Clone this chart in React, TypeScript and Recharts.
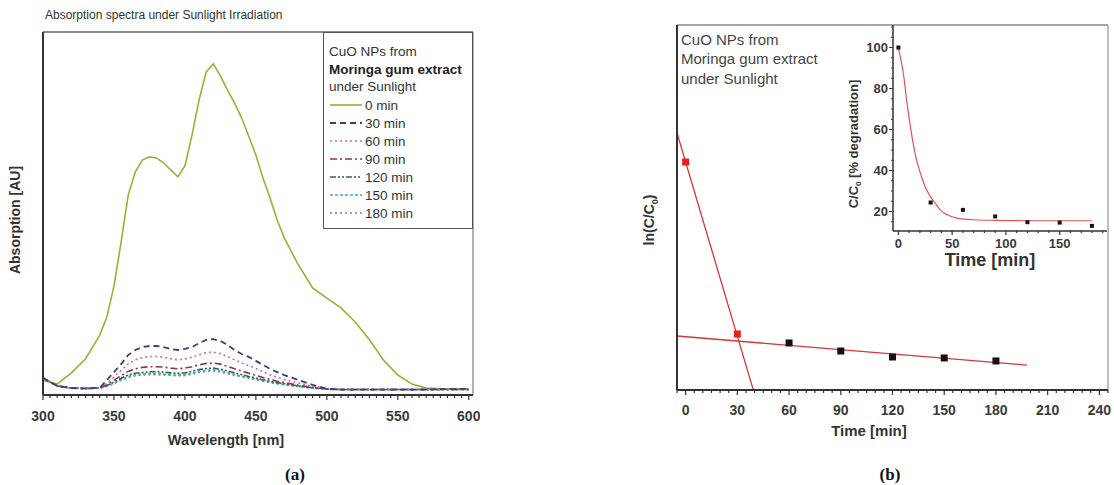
import React from 'react';
import { LineChart, Line, XAxis, YAxis, ReferenceLine, ComposedChart, Scatter } from 'recharts';

const FONT = '"Liberation Sans", Arial, Helvetica, sans-serif';

// ---------- Panel (a): absorption spectra ----------
const wavelengths = [300, 310, 320, 330, 340, 345, 350, 355, 360, 365, 370, 375, 380, 385, 390, 395, 400, 405, 410, 415, 420, 425, 430, 435, 440, 445, 450, 455, 460, 465, 470, 480, 490, 500, 510, 520, 530, 540, 550, 560, 570, 580, 590, 600];
const abs0min = [0.040, 0.030, 0.061, 0.100, 0.165, 0.215, 0.300, 0.420, 0.550, 0.614, 0.647, 0.656, 0.653, 0.639, 0.620, 0.601, 0.631, 0.716, 0.813, 0.890, 0.912, 0.879, 0.840, 0.804, 0.763, 0.713, 0.661, 0.598, 0.543, 0.482, 0.433, 0.358, 0.295, 0.267, 0.240, 0.201, 0.152, 0.096, 0.055, 0.030, 0.019, 0.017, 0.017, 0.017];
const abs30min = [0.047, 0.025, 0.019, 0.018, 0.020, 0.041, 0.063, 0.085, 0.110, 0.124, 0.132, 0.135, 0.135, 0.132, 0.127, 0.124, 0.127, 0.132, 0.143, 0.152, 0.154, 0.149, 0.138, 0.124, 0.113, 0.105, 0.094, 0.083, 0.072, 0.063, 0.055, 0.041, 0.028, 0.017, 0.015, 0.015, 0.015, 0.015, 0.015, 0.015, 0.015, 0.016, 0.017, 0.017];
const abs60min = [0.047, 0.025, 0.019, 0.018, 0.019, 0.032, 0.050, 0.068, 0.086, 0.097, 0.103, 0.106, 0.106, 0.104, 0.100, 0.097, 0.099, 0.104, 0.111, 0.117, 0.118, 0.114, 0.106, 0.097, 0.088, 0.081, 0.073, 0.064, 0.056, 0.049, 0.043, 0.033, 0.024, 0.018, 0.016, 0.015, 0.015, 0.015, 0.015, 0.015, 0.015, 0.016, 0.016, 0.016];
const abs90min = [0.047, 0.025, 0.019, 0.018, 0.019, 0.029, 0.041, 0.053, 0.065, 0.072, 0.076, 0.078, 0.078, 0.077, 0.074, 0.072, 0.074, 0.078, 0.083, 0.087, 0.088, 0.085, 0.079, 0.072, 0.066, 0.060, 0.054, 0.048, 0.043, 0.038, 0.034, 0.027, 0.021, 0.017, 0.015, 0.015, 0.015, 0.015, 0.015, 0.015, 0.015, 0.015, 0.015, 0.015];
const abs120min = [0.047, 0.025, 0.019, 0.018, 0.019, 0.026, 0.036, 0.046, 0.055, 0.060, 0.062, 0.064, 0.064, 0.063, 0.061, 0.060, 0.061, 0.065, 0.070, 0.073, 0.074, 0.071, 0.066, 0.061, 0.056, 0.051, 0.047, 0.042, 0.038, 0.034, 0.031, 0.025, 0.020, 0.017, 0.015, 0.015, 0.015, 0.015, 0.015, 0.015, 0.015, 0.015, 0.015, 0.015];
const abs150min = [0.047, 0.025, 0.019, 0.018, 0.019, 0.025, 0.033, 0.042, 0.051, 0.056, 0.058, 0.059, 0.059, 0.058, 0.056, 0.055, 0.056, 0.060, 0.065, 0.068, 0.069, 0.066, 0.062, 0.057, 0.052, 0.048, 0.044, 0.040, 0.036, 0.032, 0.029, 0.024, 0.019, 0.016, 0.015, 0.015, 0.015, 0.015, 0.015, 0.015, 0.015, 0.015, 0.015, 0.015];
const abs180min = [0.047, 0.025, 0.019, 0.018, 0.019, 0.024, 0.032, 0.040, 0.048, 0.053, 0.055, 0.056, 0.056, 0.055, 0.054, 0.053, 0.054, 0.057, 0.062, 0.065, 0.066, 0.063, 0.059, 0.054, 0.050, 0.046, 0.042, 0.038, 0.034, 0.031, 0.028, 0.023, 0.019, 0.016, 0.015, 0.015, 0.015, 0.015, 0.015, 0.015, 0.015, 0.015, 0.015, 0.015];
const wavelengthTicks = [300, 305, 310, 315, 320, 325, 330, 335, 340, 345, 350, 355, 360, 365, 370, 375, 380, 385, 390, 395, 400, 405, 410, 415, 420, 425, 430, 435, 440, 445, 450, 455, 460, 465, 470, 475, 480, 485, 490, 495, 500, 505, 510, 515, 520, 525, 530, 535, 540, 545, 550, 555, 560, 565, 570, 575, 580, 585, 590, 595, 600];

const spectraRows = wavelengths.map((w, i) => ({
  w,
  m0: abs0min[i],
  m30: abs30min[i],
  m60: abs60min[i],
  m90: abs90min[i],
  m120: abs120min[i],
  m150: abs150min[i],
  m180: abs180min[i],
}));

const seriesStyles = [
  { key: 'm0', label: '0 min', color: '#a3ab3a', dash: undefined as string | undefined, w: 1.6 },
  { key: 'm30', label: '30 min', color: '#3b3f78', dash: '6 4', w: 1.8 },
  { key: 'm60', label: '60 min', color: '#c46ac4', dash: '2 3', w: 1.6 },
  { key: 'm90', label: '90 min', color: '#8c3646', dash: '7 3 2 3', w: 1.6 },
  { key: 'm120', label: '120 min', color: '#2e6b3c', dash: '6 2 2 2 2 2', w: 1.6 },
  { key: 'm150', label: '150 min', color: '#4aa9c9', dash: '3 2', w: 1.6 },
  { key: 'm180', label: '180 min', color: '#8a78a8', dash: '2 3', w: 1.6 },
];
const drawOrder = ['m0', 'm180', 'm150', 'm120', 'm90', 'm60', 'm30'];

// ---------- Panel (b): kinetics ----------
const timePoints = [0, 30, 60, 90, 120, 150, 180];
const lnRatio = [0, -1.433, -1.508, -1.575, -1.625, -1.633, -1.658];
const steepFitT = [-5, 39.2];
const steepFitV = [0.242, -1.897];
const slowFitT = [-5, 198];
const slowFitV = [-1.45, -1.692];
const timeTicks = [-5, 0, 5, 10, 15, 20, 25, 30, 35, 40, 45, 50, 55, 60, 65, 70, 75, 80, 85, 90, 95, 100, 105, 110, 115, 120, 125, 130, 135, 140, 145, 150, 155, 160, 165, 170, 175, 180, 185, 190, 195, 200, 205, 210, 215, 220, 225, 230, 235, 240, 245];

const lnRows = timePoints.map((t, i) => ({ t, v: lnRatio[i] }));
const steepRows = steepFitT.map((t, i) => ({ t, v: steepFitV[i] }));
const slowRows = slowFitT.map((t, i) => ({ t, v: slowFitV[i] }));

// ---------- Inset: % remaining ----------
const remainingPct = [100, 24.4, 20.8, 17.6, 14.8, 14.6, 13.0];
const decayFitT = [0, 5, 8, 11, 14.3, 17, 20.5, 25, 29.8, 35, 39, 45, 54.5, 70, 90, 120, 150, 180];
const decayFitV = [100, 86, 73, 62, 51.7, 45, 38.7, 32, 27.3, 23.5, 20.8, 18.5, 16.8, 16, 15.7, 15.5, 15.5, 15.5];
const insetXTicks = [0, 10, 20, 30, 40, 50, 60, 70, 80, 90, 100, 110, 120, 130, 140, 150, 160, 170, 180, 190];
const insetYTicks = [15, 20, 25, 30, 35, 40, 45, 50, 55, 60, 65, 70, 75, 80, 85, 90, 95, 100, 105, 110];

const insetRows = timePoints.map((t, i) => ({ t, v: remainingPct[i] }));
const decayRows = decayFitT.map((t, i) => ({ t, v: decayFitV[i] }));

// ---------- helpers ----------
const makeBottomTick = (majorEvery: number, labelDy: number, fontSize: number, majorLen: number, minorLen: number) => (props: any) => {
  const { x, y, payload } = props;
  const v = Number(payload.value);
  const major = Math.abs(v % majorEvery) < 1e-9;
  return (
    <g>
      <line x1={x} x2={x} y1={y} y2={y + (major ? majorLen : minorLen)} stroke="#333" strokeWidth={1.2} />
      {major ? (
        <text x={x} y={y + labelDy} textAnchor="middle" dominantBaseline="central" fontFamily={FONT} fontWeight="bold" fontSize={fontSize} fill="#3a3a3a">
          {v}
        </text>
      ) : null}
    </g>
  );
};

const InsetLeftTick = (props: any) => {
  const { x, y, payload } = props;
  const v = Number(payload.value);
  const major = v % 20 === 0;
  return (
    <g>
      <line x1={x} x2={x - (major ? 4 : 2)} y1={y} y2={y} stroke="#333" strokeWidth={1} />
      {major ? (
        <text x={x - 5} y={y} textAnchor="end" dominantBaseline="central" fontFamily={FONT} fontWeight="bold" fontSize={13} fill="#3a3a3a">
          {v}
        </text>
      ) : null}
    </g>
  );
};

const SpectraTick = makeBottomTick(50, 21, 14, 5, 3);
const TimeTick = makeBottomTick(30, 20, 14, 5, 3);
const InsetTimeTick = makeBottomTick(50, 12, 13, 4, 2);

const Square = (color: string, size: number) => (p: any) => (
  <rect x={p.cx - size / 2} y={p.cy - size / 2} width={size} height={size} fill={color} />
);

const Txt = ({ x, y, children, style }: { x: number; y: number; children: any; style?: React.CSSProperties }) => (
  <div style={{ position: 'absolute', left: x, top: y, whiteSpace: 'nowrap', fontFamily: FONT, lineHeight: 1, ...style }}>{children}</div>
);

const VTxt = ({ cx, cy, children, style }: { cx: number; cy: number; children: any; style?: React.CSSProperties }) => (
  <div
    style={{
      position: 'absolute',
      left: cx,
      top: cy,
      transform: 'translate(-50%, -50%) rotate(-90deg)',
      whiteSpace: 'nowrap',
      fontFamily: FONT,
      lineHeight: 1,
      ...style,
    }}
  >
    {children}
  </div>
);

export default function App() {
  return (
    <div style={{ position: 'absolute', left: 0, top: 0, width: 1114, height: 485, background: '#fff', overflow: 'hidden' }}>
      {/* Panel (a) */}
      <div style={{ position: 'absolute', left: 0, top: 0 }}>
        <LineChart width={480} height={460} data={spectraRows} margin={{ top: 32, right: 7, left: 42, bottom: 35 }}>
          <XAxis
            dataKey="w"
            type="number"
            domain={[300, 603]}
            allowDataOverflow
            ticks={wavelengthTicks}
            interval={0}
            tick={SpectraTick}
            tickLine={false}
            tickSize={0}
            tickMargin={0}
            height={30}
            axisLine={{ stroke: '#333', strokeWidth: 2 }}
          />
          <YAxis type="number" domain={[0, 1]} allowDataOverflow width={1} tick={false} tickLine={false} axisLine={{ stroke: '#333', strokeWidth: 2 }} />
          <ReferenceLine y={1} stroke="#666" strokeWidth={1.5} />
          <ReferenceLine x={603} stroke="#999" strokeWidth={1.5} />
          {drawOrder.map((k) => {
            const s = seriesStyles.find((q) => q.key === k)!;
            return (
              <Line
                key={k}
                type="linear"
                dataKey={k}
                stroke={s.color}
                strokeWidth={s.w}
                strokeDasharray={s.dash}
                dot={false}
                isAnimationActive={false}
              />
            );
          })}
        </LineChart>
      </div>

      <Txt x={45} y={9} style={{ fontSize: 12, color: '#333' }}>Absorption spectra under Sunlight Irradiation</Txt>
      <VTxt cx={15} cy={220} style={{ fontSize: 14, fontWeight: 'bold', color: '#333' }}>Absorption [AU]</VTxt>
      <Txt x={226} y={440} style={{ fontSize: 14.5, fontWeight: 'bold', color: '#333', transform: 'translate(-50%, -50%)' }}>Wavelength [nm]</Txt>
      <Txt x={295} y={474} style={{ fontSize: 17, fontWeight: 'bold', color: '#111', fontFamily: '"Liberation Serif", "Times New Roman", serif', transform: 'translate(-50%, -50%)' }}>(a)</Txt>

      {/* legend box */}
      <div style={{ position: 'absolute', left: 323, top: 32, width: 148, height: 195, border: '1.5px solid #555', background: '#fff' }} />
      <Txt x={329} y={52} style={{ fontSize: 13.5, color: '#333', transform: 'translateY(-50%)' }}>CuO NPs from</Txt>
      <Txt x={329} y={70} style={{ fontSize: 13.5, color: '#222', fontWeight: 'bold', transform: 'translateY(-50%)' }}>Moringa gum extract</Txt>
      <Txt x={329} y={87} style={{ fontSize: 13.5, color: '#333', transform: 'translateY(-50%)' }}>under Sunlight</Txt>
      {seriesStyles.map((s, i) => (
        <div key={s.key} style={{ position: 'absolute', left: 329, top: 105 + 18 * i - 9, height: 18, display: 'flex', alignItems: 'center' }}>
          <svg width={34} height={18} style={{ display: 'block' }}>
            <line x1={1} x2={33} y1={9} y2={9} stroke={s.color} strokeWidth={s.w} strokeDasharray={s.dash} />
          </svg>
          <span style={{ fontFamily: FONT, fontSize: 13.5, color: '#333', marginLeft: 2 }}>{s.label}</span>
        </div>
      ))}

      {/* Panel (b) */}
      <div style={{ position: 'absolute', left: 620, top: 0 }}>
        <ComposedChart width={494} height={460} margin={{ top: 25, right: 6, left: 56, bottom: 40 }}>
          <XAxis
            dataKey="t"
            type="number"
            domain={[-5, 245]}
            allowDataOverflow
            ticks={timeTicks}
            interval={0}
            tick={TimeTick}
            tickLine={false}
            tickSize={0}
            tickMargin={0}
            height={30}
            axisLine={{ stroke: '#333', strokeWidth: 2 }}
          />
          <YAxis type="number" domain={[-1.9, 1.142]} allowDataOverflow width={1} tick={false} tickLine={false} axisLine={{ stroke: '#333', strokeWidth: 2 }} />
          <ReferenceLine y={1.142} stroke="#888" strokeWidth={1.5} />
          <ReferenceLine x={245} stroke="#aaa" strokeWidth={1.5} />
          <Line data={steepRows} dataKey="v" type="linear" stroke="#d0383c" strokeWidth={1.3} dot={false} isAnimationActive={false} />
          <Line data={slowRows} dataKey="v" type="linear" stroke="#d0383c" strokeWidth={1.3} dot={false} isAnimationActive={false} />
          <Scatter data={lnRows.slice(0, 2)} dataKey="v" fill="#e8201e" shape={Square('#e8201e', 7)} isAnimationActive={false} />
          <Scatter data={lnRows.slice(2)} dataKey="v" fill="#111" shape={Square('#151010', 7)} isAnimationActive={false} />
        </ComposedChart>
      </div>

      <Txt x={681} y={39} style={{ fontSize: 15, color: '#444', transform: 'translateY(-50%)' }}>CuO NPs from</Txt>
      <Txt x={681} y={58} style={{ fontSize: 15, color: '#444', transform: 'translateY(-50%)' }}>Moringa gum extract</Txt>
      <Txt x={681} y={78} style={{ fontSize: 15, color: '#444', transform: 'translateY(-50%)' }}>under Sunlight</Txt>
      <VTxt cx={651} cy={220} style={{ fontSize: 14, fontWeight: 'bold', color: '#333' }}>
        ln(C/C<sub style={{ fontSize: 9 }}>0</sub>)
      </VTxt>
      <Txt x={869} y={430} style={{ fontSize: 15, fontWeight: 'bold', color: '#333', transform: 'translate(-50%, -50%)' }}>Time [min]</Txt>
      <Txt x={890} y={474} style={{ fontSize: 17, fontWeight: 'bold', color: '#111', fontFamily: '"Liberation Serif", "Times New Roman", serif', transform: 'translate(-50%, -50%)' }}>(b)</Txt>

      {/* Inset */}
      <div style={{ position: 'absolute', left: 840, top: 0 }}>
        <ComposedChart width={274} height={280} margin={{ top: 25, right: 7, left: 20, bottom: 29 }}>
          <XAxis
            dataKey="t"
            type="number"
            domain={[-5, 194]}
            allowDataOverflow
            ticks={insetXTicks}
            interval={0}
            tick={InsetTimeTick}
            tickLine={false}
            tickSize={0}
            tickMargin={0}
            height={20}
            axisLine={{ stroke: '#333', strokeWidth: 1.5 }}
          />
          <YAxis
            type="number"
            domain={[10.5, 111]}
            allowDataOverflow
            width={33}
            ticks={insetYTicks}
            interval={0}
            tick={InsetLeftTick}
            tickLine={false}
            tickSize={0}
            tickMargin={0}
            axisLine={{ stroke: '#333', strokeWidth: 1.5 }}
          />
          <Line data={decayRows} dataKey="v" type="monotone" stroke="#e0555a" strokeWidth={1.2} dot={false} isAnimationActive={false} />
          <Scatter data={insetRows} dataKey="v" fill="#111" shape={Square('#151515', 4)} isAnimationActive={false} />
        </ComposedChart>
      </div>
      <VTxt cx={855} cy={144} style={{ fontSize: 13, fontWeight: 'bold', color: '#333' }}>
        C/C<sub style={{ fontSize: 8 }}>0</sub> [% degradation]
      </VTxt>
      <Txt x={990} y={260} style={{ fontSize: 18, fontWeight: 'bold', color: '#333', transform: 'translate(-50%, -50%)' }}>Time [min]</Txt>
    </div>
  );
}
